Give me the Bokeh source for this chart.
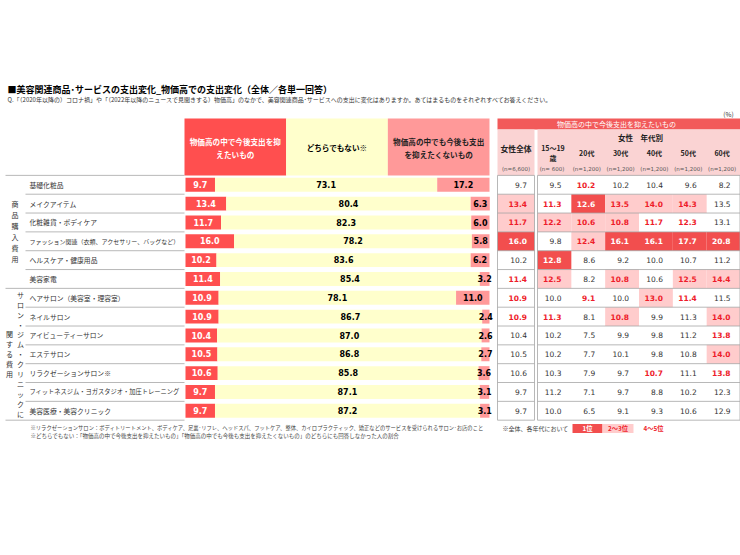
from bokeh.plotting import figure
from bokeh.models import Range1d
from bokeh.core.properties import value
from bokeh.embed import file_html
from bokeh.resources import INLINE

# ---------------- data ----------------
title = "■美容関連商品･サービスの支出変化_物価高での支出変化（全体／各単一回答）"
question = ("Q.「（2020年以降の）コロナ禍」や「（2022年以降のニュースで見聞きする）物価高」のなかで、"
            "美容関連商品･サービスへの支出に変化はありますか。あてはまるものをそれぞれすべてお答えください。")
items = [
    "基礎化粧品", "メイクアイテム", "化粧雑貨・ボディケア",
    "ファッション関連（衣類、アクセサリー、バッグなど）", "ヘルスケア・健康用品", "美容家電",
    "ヘアサロン（美容室・理容室）", "ネイルサロン", "アイビューティーサロン", "エステサロン",
    "リラクゼーションサロン※", "フィットネスジム・ヨガスタジオ・加圧トレーニング", "美容医療・美容クリニック",
]
group_names = ["商品購入費用", "サロン・ジム・クリニックに|関する費用"]
group_sizes = [6, 7]
answer_labels = ["物価高の中で今後支出を抑|えたいもの", "どちらでもない※", "物価高の中でも今後も支出|を抑えたくないもの"]
restrain = [9.7, 13.4, 11.7, 16.0, 10.2, 11.4, 10.9, 10.9, 10.4, 10.5, 10.6, 9.7, 9.7]
neither = [73.1, 80.4, 82.3, 78.2, 83.6, 85.4, 78.1, 86.7, 87.0, 86.8, 85.8, 87.1, 87.2]
keep = [17.2, 6.3, 6.0, 5.8, 6.2, 3.2, 11.0, 2.4, 2.6, 2.7, 3.6, 3.1, 3.1]

table_title = "物価高の中で今後支出を抑えたいもの"
total_label = "女性全体"
age_title = "女性　年代別"
age_labels = ["15～19|歳", "20代", "30代", "40代", "50代", "60代"]
sample_sizes = ["(n=6,600)", "(n=  600)", "(n=1,200)", "(n=1,200)", "(n=1,200)", "(n=1,200)", "(n=1,200)"]
female_total = [9.7, 13.4, 11.7, 16.0, 10.2, 11.4, 10.9, 10.9, 10.4, 10.5, 10.6, 9.7, 9.7]
age_15_19 = [9.5, 11.3, 12.2, 9.8, 12.8, 12.5, 10.0, 11.3, 10.2, 10.2, 10.3, 11.2, 10.0]
age_20s = [10.2, 12.6, 10.6, 12.4, 8.6, 8.2, 9.1, 8.1, 7.5, 7.7, 7.9, 7.1, 6.5]
age_30s = [10.2, 13.5, 10.8, 16.1, 9.2, 10.8, 10.0, 10.8, 9.9, 10.1, 9.7, 9.7, 9.1]
age_40s = [10.4, 14.0, 11.7, 16.1, 10.0, 10.6, 13.0, 9.9, 9.8, 9.8, 10.7, 8.8, 9.3]
age_50s = [9.6, 14.3, 12.3, 17.7, 10.7, 12.5, 11.4, 11.3, 11.2, 10.8, 11.1, 10.2, 10.6]
age_60s = [8.2, 13.5, 13.1, 20.8, 11.2, 14.4, 11.5, 14.0, 13.8, 14.0, 13.8, 12.3, 12.9]
unit_label = "(%)"
footnotes = [
    "※リラクゼーションサロン：ボディトリートメント、ボディケア、足裏･リフレ、ヘッドスパ、フットケア、整体、カイロプラクティック、矯正などのサービスを受けられるサロン･お店のこと",
    "※どちらでもない：「物価高の中で今後支出を抑えたいもの」「物価高の中でも今後も支出を抑えたくないもの」のどちらにも回答しなかった人の割合",
]
legend_note = "※全体、各年代において"
rank_labels = ["1位", "2～3位", "4～5位"]

# ---------------- layout / style ----------------
W, H = 740, 555
BAR_X0, BAR_X1 = 185.0, 489.0
Y0, PITCH = 184.3, 18.83
BAR_H = 0.74
LABEL_X = 29
HEAD_TOP = 118
HEAD_BOT = Y0 - PITCH / 2
TOT_L, TOT_R = 497, 534
AGE_L, AGE_R = 537, 740
RED = "#FF4F4F"
YELLOW = "#FFFFCC"
PINK = "#FF9999"
RANK1 = "#F24E4E"
RANK23 = "#FFCCCC"
RANK_TXT = "#EE1C2A"
HEAD_PINK = "#FAD3D3"
GRID = "#A6A6A6"
TXT = "#333333"
JP = value("Noto Sans CJK JP")
NUM = value("DejaVu Sans")

p = figure(width=W, height=H, x_range=Range1d(0, W), y_range=Range1d(H, 0),
           x_axis_location=None, y_axis_location=None, min_border=0,
           toolbar_location=None, output_backend="svg")
p.grid.visible = False
p.outline_line_color = None
p.background_fill_color = "white"
p.border_fill_color = "white"
p.extra_x_ranges = {"pct": Range1d(start=(0 - BAR_X0) / (BAR_X1 - BAR_X0) * 100,
                                   end=(W - BAR_X0) / (BAR_X1 - BAR_X0) * 100)}
p.extra_y_ranges = {"row": Range1d(start=(H - Y0) / PITCH, end=(0 - Y0) / PITCH)}


def txt(x, y, s, size, color=TXT, bold=False, align="left", font=JP, **kw):
    p.text(x=[x], y=[y], text=[s], text_font=font, text_font_size=value(f"{size}px"),
           text_font_style="bold" if bold else "normal", text_color=color,
           text_align=align, text_baseline="middle", **kw)


def em_len(s):
    return sum(0.55 if (ord(c) < 0x2E80 or 0xFF61 <= ord(c) <= 0xFF9F) else 1.0 for c in s)


n = len(items)
rows = list(range(n))

# title
txt(7, 88.5, title, 9, color="#000000", bold=True)
txt(7, 99, question, 6, color=TXT)
txt(728, 113, unit_label, 6.5, align="center")

# left header boxes
third = (BAR_X1 - BAR_X0 + 1) / 3
hx = [BAR_X0 - 1 + third * k for k in range(4)]
p.quad(left=hx[:3], right=hx[1:], top=[HEAD_TOP] * 3, bottom=[HEAD_BOT] * 3,
       fill_color=[RED, YELLOW, PINK], line_color=None)
head_colors = ["white", "#000000", "#222222"]
for k, lab in enumerate(answer_labels):
    cx = (hx[k] + hx[k + 1]) / 2
    parts = lab.split("|")
    cy = (HEAD_TOP + HEAD_BOT) / 2 + 1
    for m, part in enumerate(parts):
        yy = cy + (m - (len(parts) - 1) / 2) * 13.3
        txt(cx, yy, part, 7.6, color=head_colors[k], bold=True, align="center")

# stacked bars
mid = [a + b for a, b in zip(restrain, neither)]
tot = [a + b + c for a, b, c in zip(restrain, neither, keep)]
p.hbar(y=rows, left=0, right=restrain, height=BAR_H, fill_color=RED, line_color=None,
       x_range_name="pct", y_range_name="row")
p.hbar(y=rows, left=restrain, right=mid, height=BAR_H, fill_color=YELLOW, line_color=None,
       x_range_name="pct", y_range_name="row")
p.hbar(y=rows, left=mid, right=tot, height=BAR_H, fill_color=PINK, line_color=None,
       x_range_name="pct", y_range_name="row")
for vals, lefts, col in [(restrain, [0] * n, "white"), (neither, restrain, "#000000"), (keep, mid, "#000000")]:
    p.text(x=[l + v / 2 for l, v in zip(lefts, vals)], y=[r - 0.02 for r in rows],
           text=[f"{v:.1f}" for v in vals], text_font=NUM, text_font_size=value("8px"),
           text_font_style="bold", text_color=col, text_align="center", text_baseline="middle",
           x_range_name="pct", y_range_name="row")

# category labels
p.text(x=[LABEL_X] * n, y=rows, text=items, text_font=JP,
       text_font_size=[f"{min(6.8, 150 / em_len(s)):.2f}px" for s in items],
       text_color=TXT, text_align="left", text_baseline="middle", y_range_name="row")

# separators
bounds = list(range(n + 1))
group_edges = [0]
for g in group_sizes:
    group_edges.append(group_edges[-1] + g)
p.segment(x0=[5 if b in group_edges else 25 for b in bounds], x1=[BAR_X0 - 1] * len(bounds),
          y0=[b - 0.5 for b in bounds], y1=[b - 0.5 for b in bounds],
          line_color=GRID, line_width=0.8, y_range_name="row")

# vertical group labels
for g, name in enumerate(group_names):
    start = group_edges[g]
    size = group_sizes[g]
    cy = Y0 + PITCH * (start + (size - 1) / 2)
    cols = name.split("|")
    pitch = min(11, (size * PITCH - 3) / max(len(c) for c in cols))
    for k, colstr in enumerate(cols):
        x = 14.5 + 5.5 * (len(cols) - 1) - 11 * k
        ys = [cy + (i - (len(colstr) - 1) / 2) * pitch for i in range(len(colstr))]
        p.text(x=[x] * len(colstr), y=ys, text=list(colstr), text_font=JP,
               text_font_size=value("7px"), text_color=TXT, text_align="center",
               text_baseline="middle")

# ---------------- right table ----------------
table_cols = [female_total, age_15_19, age_20s, age_30s, age_40s, age_50s, age_60s]
AGE_W = (AGE_R - AGE_L) / 6


def col_bounds(j):
    if j == 0:
        return TOT_L, TOT_R
    return AGE_L + AGE_W * (j - 1), AGE_L + AGE_W * j


# header
p.quad(left=[TOT_L], right=[AGE_R], top=[HEAD_TOP], bottom=[129], fill_color="#F25A5A", line_color=None)
txt(616, 123.7, table_title, 7, color="white", align="center")
p.quad(left=[TOT_L, AGE_L], right=[TOT_R, AGE_R], top=[129, 129], bottom=[HEAD_BOT, HEAD_BOT],
       fill_color=HEAD_PINK, line_color=None)
txt((TOT_L + TOT_R) / 2, 148, total_label, 7.8, color="#222222", bold=True, align="center")
txt(640, 137, age_title, 7.5, color="#222222", bold=True, align="center")
for j in range(7):
    l, r = col_bounds(j)
    cx = (l + r) / 2 - (0 if j == 0 else 1.5)
    txt(cx, 168, sample_sizes[j], 5.5, color="#555555", align="center", font=NUM)
    if j > 0:
        parts = age_labels[j - 1].split("|")
        for m, part in enumerate(parts):
            yy = 152.5 + (m - (len(parts) - 1) / 2) * 10
            txt(cx, yy, part, 7, color="#222222", bold=True, align="center")

# cells
fills = dict(left=[], right=[], top=[], bottom=[], color=[])
texts = {True: dict(x=[], y=[], text=[], color=[]), False: dict(x=[], y=[], text=[], color=[])}
for j, colvals in enumerate(table_cols):
    l, r = col_bounds(j)
    tx = r - 7.5 if j == 0 else (l + r) / 2 + 7
    for i, v in enumerate(colvals):
        rank = 1 + sum(1 for w in colvals if w > v)
        if rank == 1:
            fill, tc, bold = RANK1, "white", True
        elif rank <= 3:
            fill, tc, bold = RANK23, RANK_TXT, True
        elif rank <= 5:
            fill, tc, bold = None, RANK_TXT, True
        else:
            fill, tc, bold = None, TXT, False
        if fill:
            fills["left"].append(l)
            fills["right"].append(r)
            fills["top"].append(i - 0.5)
            fills["bottom"].append(i + 0.5)
            fills["color"].append(fill)
        d = texts[bold]
        d["x"].append(tx)
        d["y"].append(i)
        d["text"].append(f"{v:.1f}")
        d["color"].append(tc)

p.quad(left=fills["left"], right=fills["right"], top=fills["top"], bottom=fills["bottom"],
       fill_color=fills["color"], line_color=None, y_range_name="row")
for bold, d in texts.items():
    p.text(x=d["x"], y=d["y"], text=d["text"], text_color=d["color"], text_font=NUM,
           text_font_size=value("7.5px"), text_font_style="bold" if bold else "normal",
           text_align="right", text_baseline="middle", y_range_name="row")

# grid lines of table
hx0 = [TOT_L] * (n + 1) + [AGE_L] * (n + 1)
hx1 = [TOT_R] * (n + 1) + [AGE_R] * (n + 1)
hy = [b - 0.5 for b in bounds] * 2
p.segment(x0=hx0, x1=hx1, y0=hy, y1=hy, line_color=GRID, line_width=0.8, y_range_name="row")
vx = [TOT_L, TOT_R, AGE_L, AGE_R - 0.5]
p.segment(x0=vx, x1=vx, y0=[-0.5] * 4, y1=[n - 0.5] * 4, line_color=GRID, line_width=0.8,
          y_range_name="row")

# footnotes
txt(30, 427.5, footnotes[0], 5.3, color="#444444")
txt(30, 435.5, footnotes[1], 5.5, color="#444444")

# legend
txt(502, 427.5, legend_note, 6, color="#444444")
lx = [572, 602, 633]
p.quad(left=lx[:2], right=lx[1:], top=[423.5, 423.5], bottom=[432.5, 432.5],
       fill_color=[RANK1, RANK23], line_color=None)
txt((lx[0] + lx[1]) / 2, 428, rank_labels[0], 6.3, color="white", bold=True, align="center")
txt((lx[1] + lx[2]) / 2, 428, rank_labels[1], 6.3, color=RANK_TXT, bold=True, align="center")
txt(653, 428, rank_labels[2], 6.3, color=RANK_TXT, bold=True, align="center")

open("out.html", "w").write(file_html(p, INLINE))
